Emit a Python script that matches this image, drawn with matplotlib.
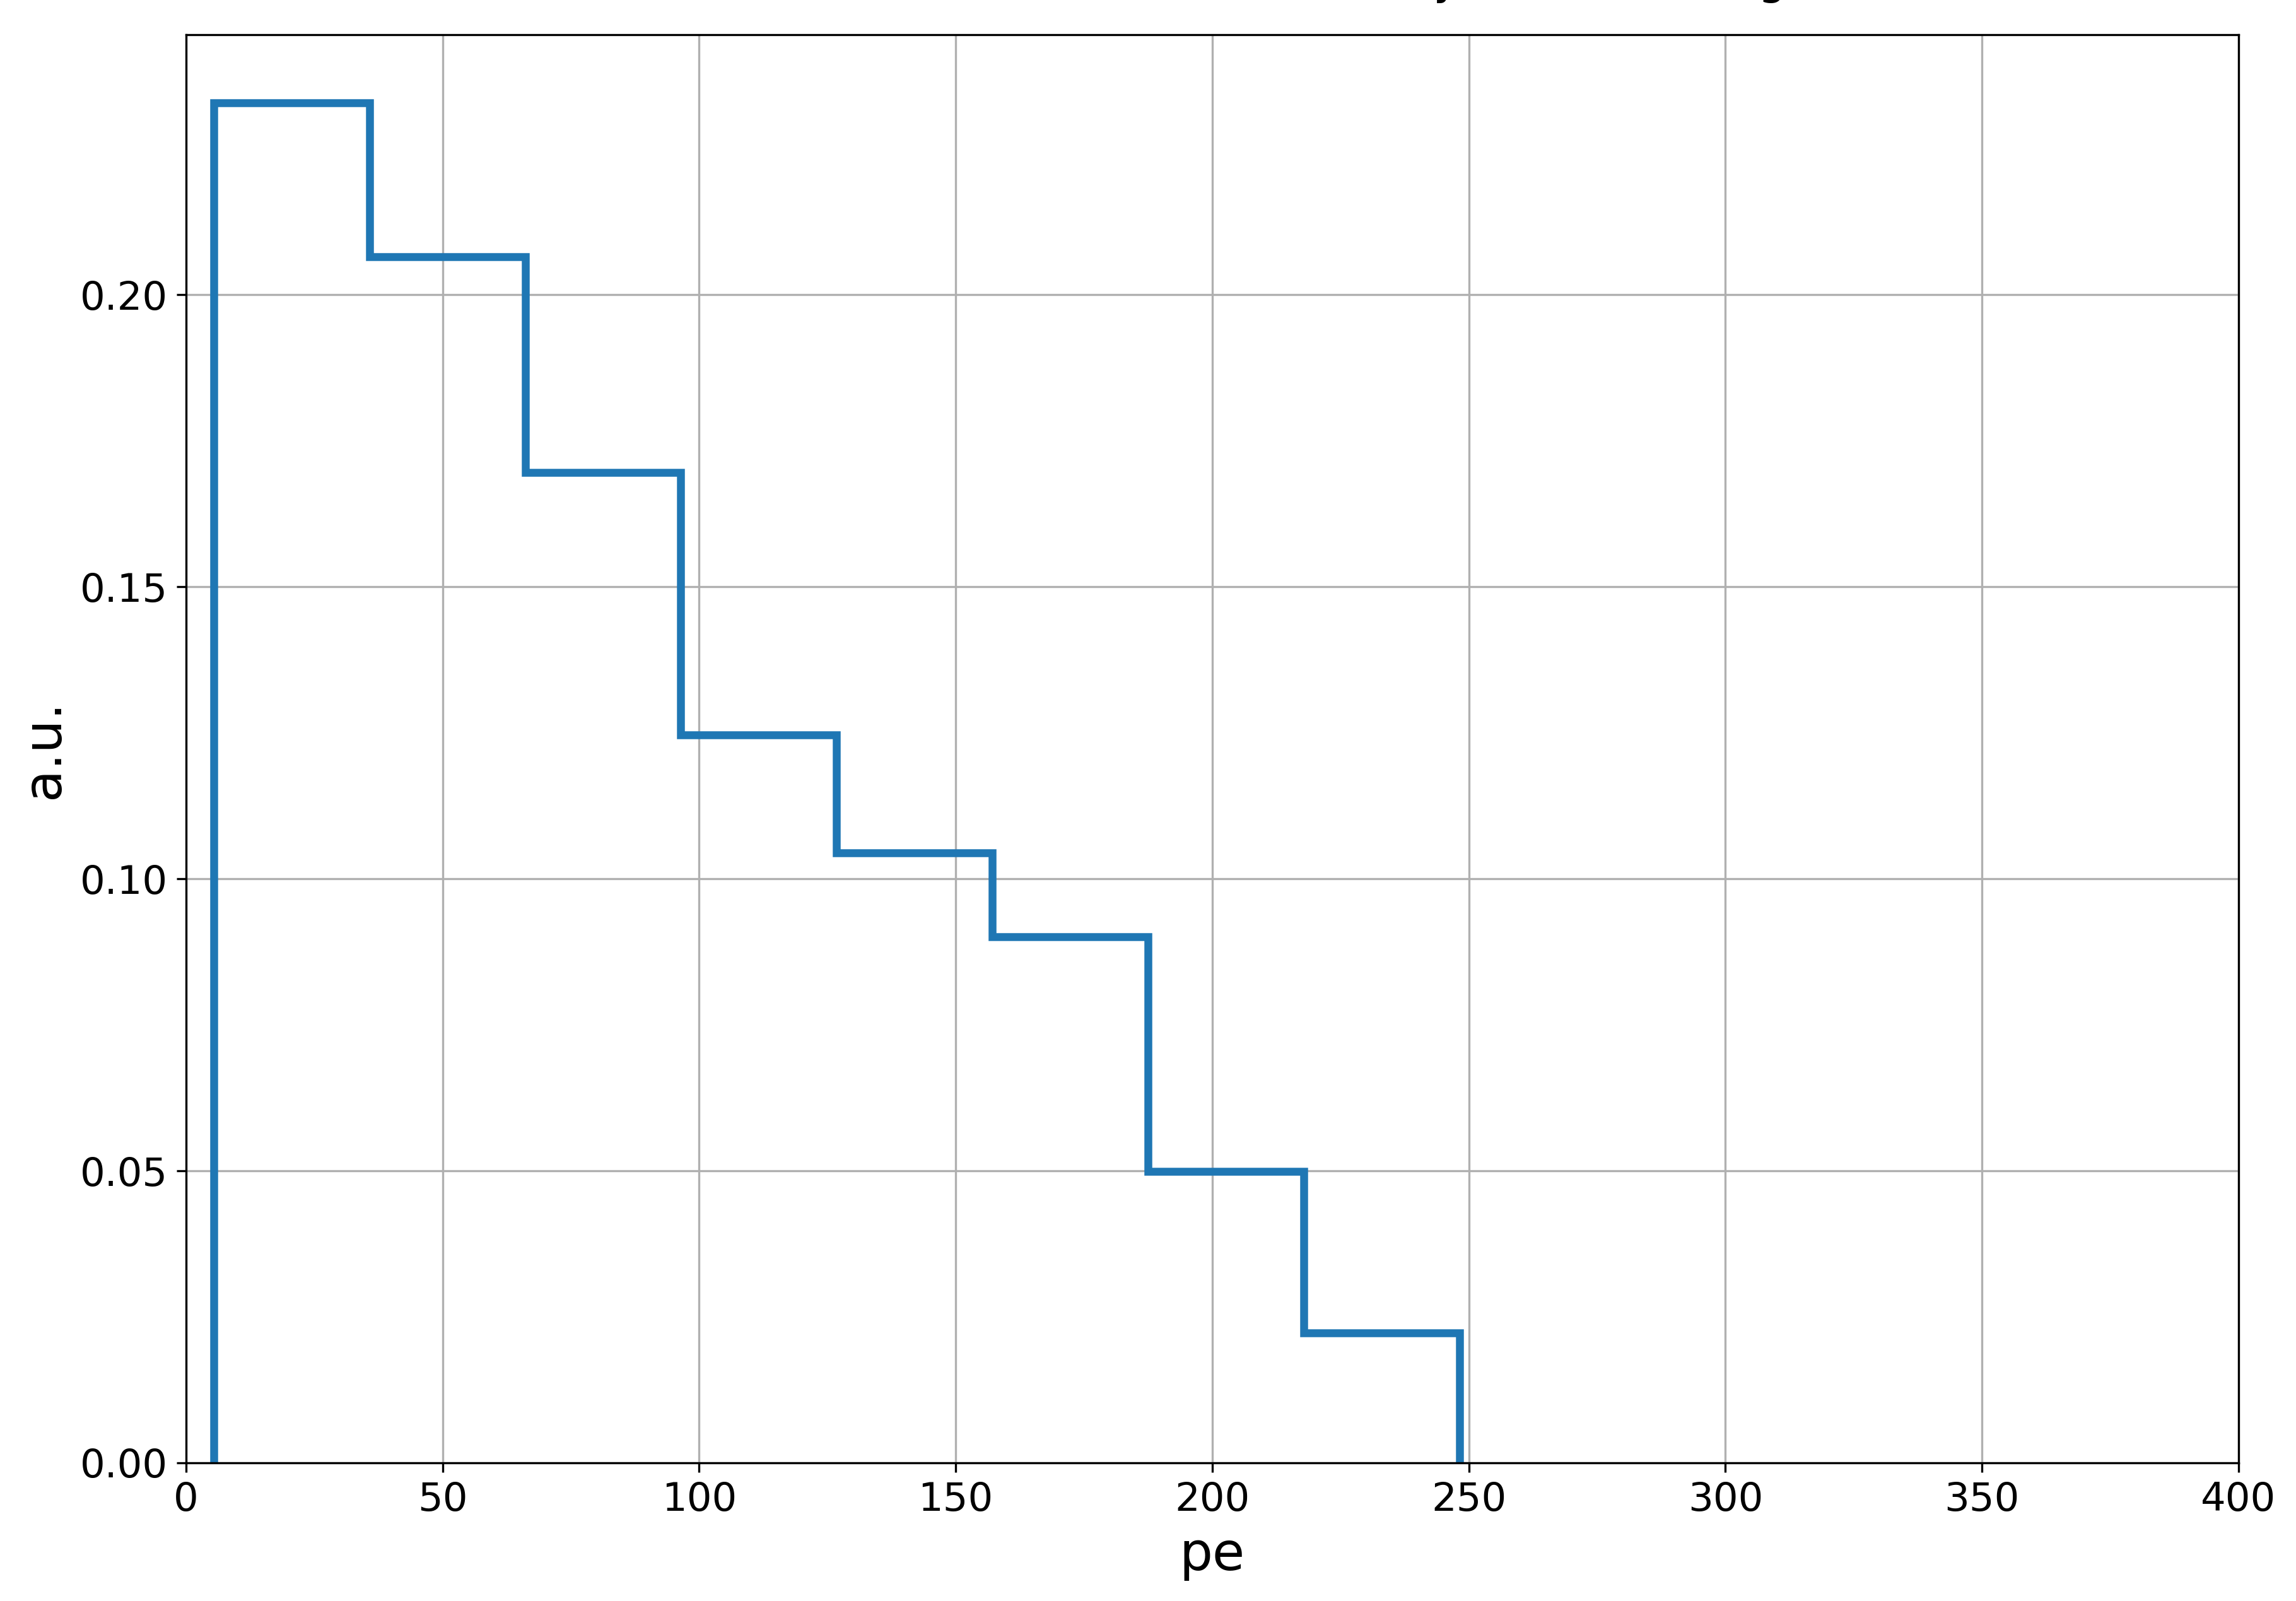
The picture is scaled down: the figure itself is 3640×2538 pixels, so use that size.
import numpy as np
import matplotlib.pyplot as plt

# histogram (weights sum to 1)
bin_edges = [5.4, 35.75, 66.1, 96.45, 126.8, 157.15, 187.5, 217.85, 248.2]
bin_heights = [0.2329, 0.2065, 0.1696, 0.1247, 0.1044, 0.0901, 0.0499, 0.0223]

x_ticks = [0, 50, 100, 150, 200, 250, 300, 350, 400]
title = 'Muon PE distribution for the first day of data taking'

edges = np.array(bin_edges)
centers = 0.5 * (edges[1:] + edges[:-1])

fig = plt.figure(figsize=(3640 / 300, 2538 / 300), dpi=300)
ax = fig.add_axes([0.081, 0.0863, 0.894, 0.892])

ax.hist(centers, bins=edges, weights=bin_heights, histtype='step',
        linewidth=3, color='#1f77b4')

ax.set_xlim(0, 400)
ax.set_xticks(x_ticks)
ax.grid(True)
ax.set_axisbelow(True)
ax.tick_params(labelsize=15)
ax.set_xlabel('pe', fontsize=20)
ax.set_ylabel('a.u.', fontsize=20)
# the title sits mostly above the top edge, as in the original
ax.set_title(title, fontsize=17, pad=15.5)

fig.savefig('out.png', dpi=300)
